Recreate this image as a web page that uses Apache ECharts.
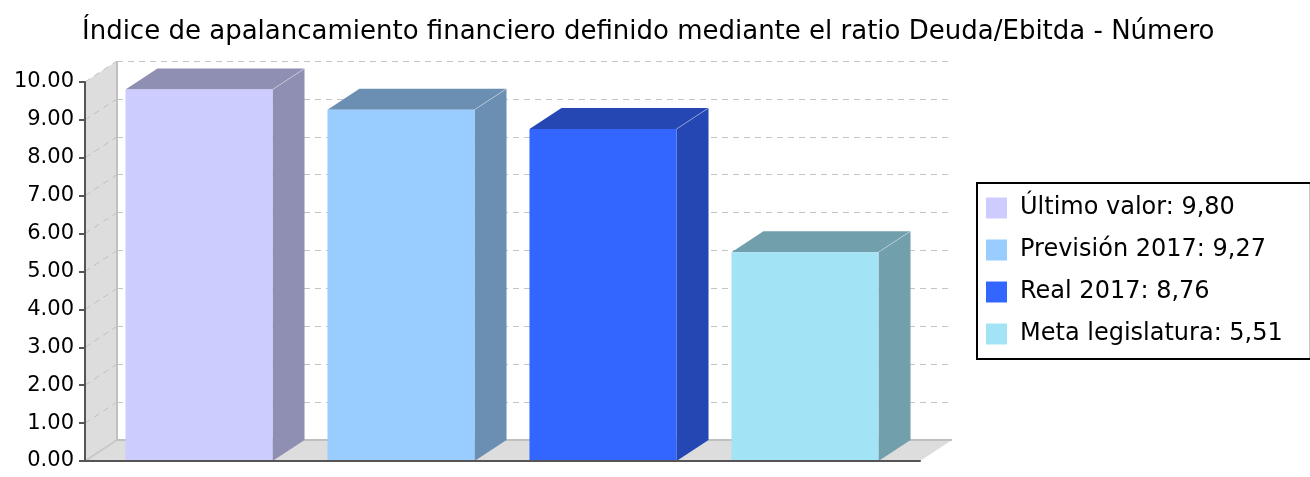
<!DOCTYPE html>
<html>
<head>
    <meta charset="utf-8">
    <title>ECharts</title>
    <script src="https://cdn.jsdelivr.net/npm/echarts@6/dist/echarts.min.js"></script>
    <style>
        html, body { margin: 0; padding: 0; background: #fff; }
    </style>
</head>
<body>
    <div id="main" style="width: 1310px;height:477px;"></div>
    <script type="text/javascript">
        // datos del gráfico
        var categorias = ['Último valor', 'Previsión 2017', 'Real 2017', 'Meta legislatura'];
        var valores = [9.80, 9.27, 8.76, 5.51];
        var colores = ['#CCCCFF', '#99CCFF', '#3366FF', '#A3E3F6'];
        var coloresLado = ['#8F8FB3', '#6B8FB3', '#2447B3', '#729FAC'];
        var ticksY = [1, 2, 3, 4, 5, 6, 7, 8, 9, 10];

        var DX = 32, DY = -21; // desplazamiento 3D
        var fuente = 'DejaVu Sans';

        var myChart = echarts.init(document.getElementById('main'));

        function etiqueta(i) {
            return categorias[i] + ': ' + valores[i].toFixed(2).replace('.', ',');
        }

        // barra 3D
        function dibujarBarra(params, api) {
            var i = params.seriesIndex - 2;
            var idx = api.value(0);
            var arriba = api.coord([idx, api.value(1)]);
            var base = api.coord([idx, 0]);
            var w = api.size([1, 0])[0] * 0.728;
            var x0 = arriba[0] - w / 2, x1 = arriba[0] + w / 2;
            var y0 = arriba[1], y1 = base[1];
            return {
                type: 'group',
                children: [
                    {
                        type: 'polygon',
                        shape: { points: [[x1, y0], [x1 + DX, y0 + DY], [x1 + DX, y1 + DY], [x1, y1]] },
                        style: { fill: coloresLado[i] }
                    },
                    {
                        type: 'polygon',
                        shape: { points: [[x0, y0], [x0 + DX, y0 + DY], [x1 + DX, y0 + DY], [x1, y0]] },
                        style: { fill: coloresLado[i] }
                    },
                    {
                        type: 'rect',
                        shape: { x: x0, y: y0, width: w, height: y1 - y0 },
                        style: { fill: colores[i] }
                    },
                    {
                        type: 'line',
                        shape: { x1: x1, y1: y0, x2: x1 + DX, y2: y0 + DY },
                        style: { stroke: 'rgba(255,255,255,0.35)', lineWidth: 1 }
                    }
                ]
            };
        }

        var series = [
            {
                // paredes y suelo
                type: 'custom',
                xAxisIndex: 0,
                yAxisIndex: 0,
                z: 1,
                silent: true,
                clip: false,
                data: [[0, 0]],
                renderItem: function (params, api) {
                    var cs = params.coordSys;
                    var x = cs.x, yt = cs.y, yb = cs.y + cs.height, xr = cs.x + cs.width;
                    return {
                        type: 'group',
                        children: [
                            {
                                type: 'polygon',
                                shape: { points: [[x, yb], [x + DX, yb + DY], [x + DX, yt + DY], [x, yt]] },
                                style: { fill: '#DDDDDD' }
                            },
                            {
                                type: 'polygon',
                                shape: { points: [[x, yb], [xr, yb], [xr + DX, yb + DY], [x + DX, yb + DY]] },
                                style: { fill: '#DDDDDD' }
                            },
                            {
                                type: 'polyline',
                                shape: { points: [[x + DX, yt + DY], [x + DX, yb + DY], [xr + DX, yb + DY]] },
                                style: { stroke: '#C0C0C0', lineWidth: 2, fill: null }
                            },
                            {
                                type: 'line',
                                shape: { x1: x, y1: yb, x2: x + DX, y2: yb + DY },
                                style: { stroke: '#C8C8C8', lineWidth: 2 }
                            }
                        ]
                    };
                }
            },
            {
                // líneas de cuadrícula en la pared izquierda
                type: 'custom',
                xAxisIndex: 0,
                yAxisIndex: 0,
                z: 1.5,
                silent: true,
                clip: false,
                data: ticksY.map(function (v) { return [0, v]; }),
                renderItem: function (params, api) {
                    var cs = params.coordSys;
                    var y = api.coord([0, api.value(1)])[1];
                    return {
                        type: 'line',
                        shape: { x1: cs.x, y1: y, x2: cs.x + DX, y2: y + DY },
                        style: { stroke: '#BFBFBF', lineWidth: 1, lineDash: [6, 5] }
                    };
                }
            }
        ];

        for (var i = 0; i < categorias.length; i++) {
            series.push({
                name: etiqueta(i),
                type: 'custom',
                xAxisIndex: 1,
                yAxisIndex: 1,
                z: 3,
                clip: false,
                itemStyle: { color: colores[i] },
                data: [[i, valores[i]]],
                renderItem: dibujarBarra
            });
        }

        var option = {
            animation: false,
            title: {
                text: 'Índice de apalancamiento financiero definido mediante el ratio Deuda/Ebitda - Número',
                left: 77,
                top: 14,
                textStyle: { fontFamily: fuente, fontSize: 26, fontWeight: 'normal', color: '#000' }
            },
            legend: {
                orient: 'vertical',
                left: 977,
                top: 183,
                data: categorias.map(function (c, i) { return etiqueta(i); }),
                icon: 'rect',
                itemWidth: 21,
                itemHeight: 21,
                itemGap: 18,
                borderColor: '#000',
                borderWidth: 2,
                borderRadius: 0,
                padding: [13, 28, 13, 9],
                selectedMode: false,
                textStyle: { fontFamily: fuente, fontSize: 24, color: '#000', padding: [0, 0, 0, 8] }
            },
            grid: [
                { left: 85, top: 82, width: 835, height: 379 },   // ejes frontales
                { left: 98, top: 82, width: 808, height: 379 },   // barras
                { left: 117, top: 61, width: 834, height: 379 }   // pared del fondo
            ],
            xAxis: [
                {
                    gridIndex: 0,
                    type: 'category',
                    data: [''],
                    z: 10,
                    axisLine: { lineStyle: { color: '#555', width: 2 } },
                    axisTick: { alignWithLabel: true, length: 5, lineStyle: { color: '#555', width: 2 } },
                    axisLabel: { show: false }
                },
                {
                    gridIndex: 1,
                    type: 'category',
                    data: categorias,
                    show: false
                },
                {
                    gridIndex: 2,
                    type: 'value',
                    show: false
                }
            ],
            yAxis: [
                {
                    gridIndex: 0,
                    type: 'value',
                    min: 0,
                    max: 10,
                    interval: 1,
                    z: 10,
                    axisLine: { show: true, lineStyle: { color: '#555', width: 2 } },
                    axisTick: { show: true, length: 6, lineStyle: { color: '#555', width: 2 } },
                    splitLine: { show: false },
                    axisLabel: {
                        margin: 11,
                        fontFamily: fuente,
                        fontSize: 21,
                        color: '#000',
                        formatter: function (v) { return v.toFixed(2); }
                    }
                },
                {
                    gridIndex: 1,
                    type: 'value',
                    min: 0,
                    max: 10,
                    show: false
                },
                {
                    gridIndex: 2,
                    type: 'value',
                    min: 0,
                    max: 10,
                    interval: 1,
                    axisLine: { show: false },
                    axisTick: { show: false },
                    axisLabel: { show: false },
                    splitLine: { show: true, lineStyle: { color: '#C4C4C4', width: 1, type: [6, 5] } }
                }
            ],
            series: series
        };

        myChart.setOption(option);

        window.addEventListener("resize", function(){
            myChart.resize();
        })
    </script>
</body>
</html>
